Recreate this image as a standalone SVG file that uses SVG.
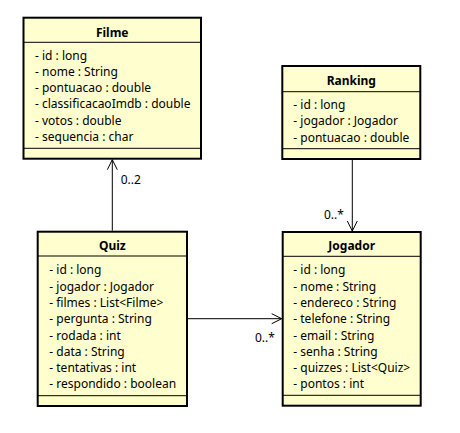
<svg xmlns="http://www.w3.org/2000/svg" width="460" height="433" viewBox="0 0 460 433">
<style>
.box{fill:#FEFECE;stroke:#000;stroke-width:2}
.div{stroke:#000;stroke-width:1}
.t{font-family:"Noto Sans","Open Sans",sans-serif;font-size:12px;font-weight:bold;text-anchor:middle;fill:#000}
.a{font-family:"Noto Sans","Open Sans",sans-serif;font-size:12px;fill:#000}
.l{font-family:"Noto Sans","Open Sans",sans-serif;font-size:12px;fill:#000}
.c{stroke:#000;stroke-width:1;fill:none}
</style>
<rect width="460" height="433" fill="#fff"/>
<g id="Filme">
<rect class="box" x="23.5" y="17.7" width="177.5" height="141"/>
<line class="div" x1="23.5" y1="42.3" x2="201" y2="42.3"/>
<line class="div" x1="23.5" y1="148.3" x2="201" y2="148.3"/>
<text class="t" x="112.2" y="36.5">Filme</text>
<text class="a" x="35" y="59.5">- id : long</text>
<text class="a" x="35" y="75.8">- nome : String</text>
<text class="a" x="35" y="92.1">- pontuacao : double</text>
<text class="a" x="35" y="108.4">- classificacaoImdb : double</text>
<text class="a" x="35" y="124.7">- votos : double</text>
<text class="a" x="35" y="141">- sequencia : char</text>
</g>
<g id="Ranking">
<rect class="box" x="282.3" y="66" width="138" height="93"/>
<line class="div" x1="282.3" y1="91.7" x2="420.3" y2="91.7"/>
<line class="div" x1="282.3" y1="148.7" x2="420.3" y2="148.7"/>
<text class="t" x="351.3" y="85">Ranking</text>
<text class="a" x="293.3" y="108.5">- id : long</text>
<text class="a" x="293.3" y="125">- jogador : Jogador</text>
<text class="a" x="293.3" y="141.5">- pontuacao : double</text>
</g>
<g id="Quiz">
<rect class="box" x="37.7" y="231.7" width="149.3" height="174.3"/>
<line class="div" x1="37.7" y1="256" x2="187" y2="256"/>
<line class="div" x1="37.7" y1="395.7" x2="187" y2="395.7"/>
<text class="t" x="112.3" y="249.5">Quiz</text>
<text class="a" x="49.3" y="274.3">- id : long</text>
<text class="a" x="49.3" y="290.6">- jogador : Jogador</text>
<text class="a" x="49.3" y="306.9">- filmes : List&lt;Filme&gt;</text>
<text class="a" x="49.3" y="323.2">- pergunta : String</text>
<text class="a" x="49.3" y="339.5">- rodada : int</text>
<text class="a" x="49.3" y="355.8">- data : String</text>
<text class="a" x="49.3" y="372.1">- tentativas : int</text>
<text class="a" x="49.3" y="388.4">- respondido : boolean</text>
</g>
<g id="Jogador">
<rect class="box" x="282.7" y="232" width="138" height="173.7"/>
<line class="div" x1="282.7" y1="256.3" x2="420.7" y2="256.3"/>
<line class="div" x1="282.7" y1="395.3" x2="420.7" y2="395.3"/>
<text class="t" x="351.7" y="250">Jogador</text>
<text class="a" x="293.3" y="274.3">- id : long</text>
<text class="a" x="293.3" y="290.6">- nome : String</text>
<text class="a" x="293.3" y="306.9">- endereco : String</text>
<text class="a" x="293.3" y="323.2">- telefone : String</text>
<text class="a" x="293.3" y="339.5">- email : String</text>
<text class="a" x="293.3" y="355.8">- senha : String</text>
<text class="a" x="293.3" y="372.1">- quizzes : List&lt;Quiz&gt;</text>
<text class="a" x="293.3" y="388.4">- pontos : int</text>
</g>
<g id="connectors">
<path class="c" d="M112.3,230.7 L112.3,159.7"/>
<path class="c" d="M107.3,169.7 L112.3,159.7 L117.3,169.7"/>
<text class="l" x="120.7" y="183.5">0..2</text>
<path class="c" d="M352.3,159 L352.3,231"/>
<path class="c" d="M347.3,221 L352.3,231 L357.3,221"/>
<text class="l" x="324" y="218.5">0..*</text>
<path class="c" d="M187,318.7 L281.7,318.7"/>
<path class="c" d="M271.7,313.7 L281.7,318.7 L271.7,323.7"/>
<text class="l" x="255" y="342">0..*</text>
</g>
</svg>
